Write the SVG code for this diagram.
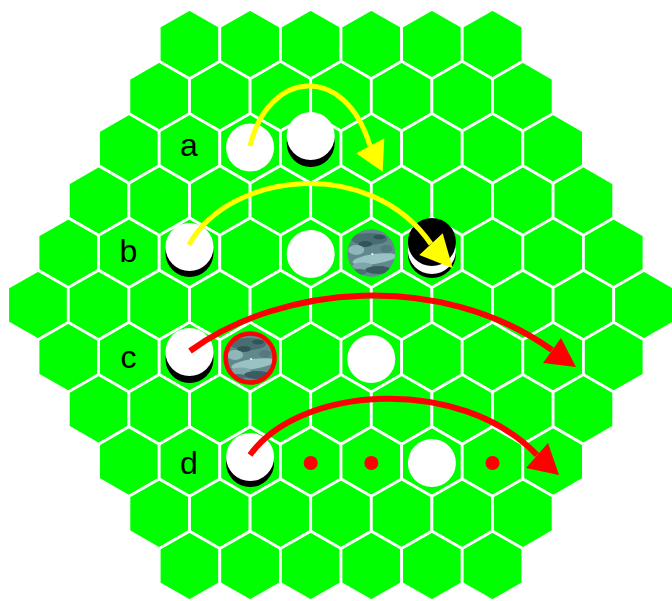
<svg xmlns="http://www.w3.org/2000/svg" xmlns:xlink="http://www.w3.org/1999/xlink" width="672" height="601" viewBox="0 0 672 601">
<style>
.cell{fill:#00ff00;stroke:#ffffff;stroke-width:2.8;stroke-linejoin:miter}
.lbl{font-family:"Liberation Sans",Arial,sans-serif;font-size:32px;fill:#000;text-anchor:middle}
.wp{fill:#ffffff}
.bp{fill:#000000}
.dot{fill:#ff0000}
.ya{fill:none;stroke:#ffff00;stroke-width:5;stroke-linecap:butt}
.yh{fill:#ffff00}
.ra{fill:none;stroke:#ff0000;stroke-width:6;stroke-linecap:butt}
.rh{fill:#ff0000}
</style>
<defs>
<polygon id="hex" points="0,-34.8 30.3,-17.4 30.3,17.4 0,34.8 -30.3,17.4 -30.3,-17.4"/>
<clipPath id="mclip"><circle cx="0" cy="0" r="24"/></clipPath>
<g id="marble">
<g clip-path="url(#mclip)">
<circle cx="0" cy="0" r="24" fill="#61888d"/>
<ellipse cx="-2" cy="-14" rx="18" ry="6" fill="#4a6d72"/>
<ellipse cx="-6" cy="-9" rx="7" ry="3" fill="#33535a"/>
<ellipse cx="8" cy="-16" rx="6" ry="2.5" fill="#33535a"/>
<ellipse cx="-15" cy="-3" rx="8" ry="5" fill="#8fb6b8"/>
<ellipse cx="3" cy="6" rx="22" ry="5" fill="#98c2c3" transform="rotate(-8 3 6)"/>
<ellipse cx="-9" cy="13" rx="10" ry="3.5" fill="#7ea6a9"/>
<ellipse cx="7" cy="17" rx="13" ry="4" fill="#3a5c61"/>
<ellipse cx="-12" cy="19" rx="7" ry="3" fill="#4b6f73"/>
<ellipse cx="15" cy="-4" rx="6" ry="4" fill="#55797e"/>
<circle cx="1" cy="1" r="1" fill="#ffffff"/>
</g>
</g>
</defs>
<g id="board">
<g transform="translate(0,44)">
<use href="#hex" class="cell" x="189.5"/><use href="#hex" class="cell" x="250.1"/><use href="#hex" class="cell" x="310.7"/><use href="#hex" class="cell" x="371.3"/><use href="#hex" class="cell" x="431.9"/><use href="#hex" class="cell" x="492.5"/>
</g>
<g transform="translate(0,96.2)">
<use href="#hex" class="cell" x="159.2"/><use href="#hex" class="cell" x="219.8"/><use href="#hex" class="cell" x="280.4"/><use href="#hex" class="cell" x="341"/><use href="#hex" class="cell" x="401.6"/><use href="#hex" class="cell" x="462.2"/><use href="#hex" class="cell" x="522.8"/>
</g>
<g transform="translate(0,148.4)">
<use href="#hex" class="cell" x="128.9"/><use href="#hex" class="cell" x="189.5"/><use href="#hex" class="cell" x="250.1"/><use href="#hex" class="cell" x="310.7"/><use href="#hex" class="cell" x="371.3"/><use href="#hex" class="cell" x="431.9"/><use href="#hex" class="cell" x="492.5"/><use href="#hex" class="cell" x="553.1"/>
</g>
<g transform="translate(0,200.6)">
<use href="#hex" class="cell" x="98.6"/><use href="#hex" class="cell" x="159.2"/><use href="#hex" class="cell" x="219.8"/><use href="#hex" class="cell" x="280.4"/><use href="#hex" class="cell" x="341"/><use href="#hex" class="cell" x="401.6"/><use href="#hex" class="cell" x="462.2"/><use href="#hex" class="cell" x="522.8"/><use href="#hex" class="cell" x="583.4"/>
</g>
<g transform="translate(0,252.8)">
<use href="#hex" class="cell" x="68.3"/><use href="#hex" class="cell" x="128.9"/><use href="#hex" class="cell" x="189.5"/><use href="#hex" class="cell" x="250.1"/><use href="#hex" class="cell" x="310.7"/><use href="#hex" class="cell" x="371.3"/><use href="#hex" class="cell" x="431.9"/><use href="#hex" class="cell" x="492.5"/><use href="#hex" class="cell" x="553.1"/><use href="#hex" class="cell" x="613.7"/>
</g>
<g transform="translate(0,305)">
<use href="#hex" class="cell" x="38"/><use href="#hex" class="cell" x="98.6"/><use href="#hex" class="cell" x="159.2"/><use href="#hex" class="cell" x="219.8"/><use href="#hex" class="cell" x="280.4"/><use href="#hex" class="cell" x="341"/><use href="#hex" class="cell" x="401.6"/><use href="#hex" class="cell" x="462.2"/><use href="#hex" class="cell" x="522.8"/><use href="#hex" class="cell" x="583.4"/><use href="#hex" class="cell" x="644"/>
</g>
<g transform="translate(0,357.2)">
<use href="#hex" class="cell" x="68.3"/><use href="#hex" class="cell" x="128.9"/><use href="#hex" class="cell" x="189.5"/><use href="#hex" class="cell" x="250.1"/><use href="#hex" class="cell" x="310.7"/><use href="#hex" class="cell" x="371.3"/><use href="#hex" class="cell" x="431.9"/><use href="#hex" class="cell" x="492.5"/><use href="#hex" class="cell" x="553.1"/><use href="#hex" class="cell" x="613.7"/>
</g>
<g transform="translate(0,409.4)">
<use href="#hex" class="cell" x="98.6"/><use href="#hex" class="cell" x="159.2"/><use href="#hex" class="cell" x="219.8"/><use href="#hex" class="cell" x="280.4"/><use href="#hex" class="cell" x="341"/><use href="#hex" class="cell" x="401.6"/><use href="#hex" class="cell" x="462.2"/><use href="#hex" class="cell" x="522.8"/><use href="#hex" class="cell" x="583.4"/>
</g>
<g transform="translate(0,461.6)">
<use href="#hex" class="cell" x="128.9"/><use href="#hex" class="cell" x="189.5"/><use href="#hex" class="cell" x="250.1"/><use href="#hex" class="cell" x="310.7"/><use href="#hex" class="cell" x="371.3"/><use href="#hex" class="cell" x="431.9"/><use href="#hex" class="cell" x="492.5"/><use href="#hex" class="cell" x="553.1"/>
</g>
<g transform="translate(0,513.8)">
<use href="#hex" class="cell" x="159.2"/><use href="#hex" class="cell" x="219.8"/><use href="#hex" class="cell" x="280.4"/><use href="#hex" class="cell" x="341"/><use href="#hex" class="cell" x="401.6"/><use href="#hex" class="cell" x="462.2"/><use href="#hex" class="cell" x="522.8"/>
</g>
<g transform="translate(0,566)">
<use href="#hex" class="cell" x="189.5"/><use href="#hex" class="cell" x="250.1"/><use href="#hex" class="cell" x="310.7"/><use href="#hex" class="cell" x="371.3"/><use href="#hex" class="cell" x="431.9"/><use href="#hex" class="cell" x="492.5"/>
</g>
</g>
<g id="labels">
<text class="lbl" x="189" y="156">a</text>
<text class="lbl" x="128.5" y="262">b</text>
<text class="lbl" x="128.5" y="368">c</text>
<text class="lbl" x="189" y="474">d</text>
</g>
<g id="row-a">
<g id="a1"><circle class="wp" cx="250.1" cy="147.5" r="24"/></g>
<g id="a2"><circle class="bp" cx="310.7" cy="143" r="24"/><circle class="wp" cx="310.7" cy="136" r="24"/></g>
</g>
<g id="row-b">
<g id="b1"><circle class="bp" cx="189.5" cy="253" r="24"/><circle class="wp" cx="189.5" cy="247" r="24"/></g>
<g id="b2"><circle class="wp" cx="310.7" cy="254" r="24"/></g>
<g id="b3"><use href="#marble" x="371.3" y="253"/></g>
<g id="b4"><circle class="bp" cx="431.9" cy="254" r="24"/><circle class="wp" cx="431.9" cy="250" r="24"/><circle class="bp" cx="431.9" cy="242" r="24"/></g>
</g>
<g id="row-c">
<g id="c1"><circle class="bp" cx="189.5" cy="359" r="24"/><circle class="wp" cx="189.5" cy="352" r="24"/></g>
<g id="c2"><use href="#marble" x="250.1" y="358"/><circle cx="250.1" cy="358" r="24.5" fill="none" stroke="#ff0000" stroke-width="4.5"/></g>
<g id="c3"><circle class="wp" cx="371.3" cy="359" r="24"/></g>
</g>
<g id="row-d">
<g id="d1"><circle class="bp" cx="250.1" cy="463" r="24"/><circle class="wp" cx="250.1" cy="457" r="24"/></g>
<g id="d2"><circle class="dot" cx="310.7" cy="463" r="7"/></g>
<g id="d3"><circle class="dot" cx="371.3" cy="463" r="7"/></g>
<g id="d4"><circle class="wp" cx="431.9" cy="463" r="24"/></g>
<g id="d5"><circle class="dot" cx="492.5" cy="463" r="7"/></g>
</g>
<g id="connectors">
<path class="ya" d="M250,146 C268,70 345,62 370,146"/>
<polygon class="yh" points="356,153.3 384.3,138.3 382.7,171.7"/>
<path class="ya" d="M189,245 C228,172 370,155 431,244"/>
<polygon class="yh" points="419.3,255 442.7,233.3 452.7,268.3"/>
<path class="ra" d="M190,351 C280,285 440,270 552,350"/>
<polygon class="rh" points="543,363 561,338 576,367"/>
<path class="ra" d="M250,455 C300,385 460,375 537,455"/>
<polygon class="rh" points="526,468 548,443 559,475"/>
</g>
</svg>
